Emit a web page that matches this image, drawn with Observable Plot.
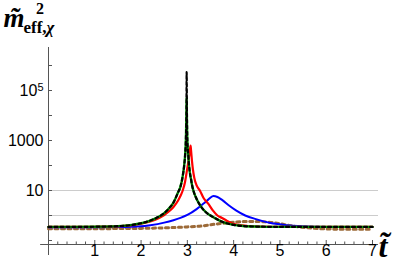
<!DOCTYPE html>
<html>
<head>
<meta charset="utf-8">
<script src="https://cdn.jsdelivr.net/npm/d3@7"></script>
<script src="https://cdn.jsdelivr.net/npm/@observablehq/plot@0.6"></script>
<style>
  html, body { margin: 0; padding: 0; background: #fff; }
  #wrap { position: relative; width: 399px; height: 268px; overflow: hidden; }
</style>
</head>
<body>
<div id="wrap"></div>
<script>
// ---- data ----
const tGB = [0, 0.5, 1, 1.5, 1.8, 2, 2.2, 2.3, 2.4, 2.5, 2.6, 2.7, 2.8, 2.85, 2.9, 2.93, 2.95, 2.97, 2.98, 2.985, 2.99, 3.0, 3.02, 3.05, 3.08, 3.1, 3.13, 3.2, 3.3, 3.4, 3.5, 3.6, 3.7, 3.8, 3.9, 4.0, 4.2, 4.5, 5, 6, 7];
const vBlack = [0.35, 0.35, 0.355, 0.375, 0.42, 0.49, 0.63, 0.75, 0.93, 1.25, 1.9, 3.3, 8.5, 14, 38, 95, 240, 1400, 12000, 540000, 20000, 1000, 250, 60, 28, 17, 10, 4.6, 2.2, 1.35, 1.0, 0.78, 0.62, 0.52, 0.46, 0.42, 0.38, 0.36, 0.35, 0.35, 0.35];
const vGreen = [0.35, 0.35, 0.355, 0.375, 0.42, 0.49, 0.63, 0.75, 0.93, 1.25, 1.9, 3.3, 8.5, 14, 38, 95, 240, 1400, 12000, 54000, 8000, 1000, 250, 60, 28, 17, 10, 4.6, 2.2, 1.35, 1.0, 0.78, 0.62, 0.52, 0.46, 0.42, 0.38, 0.36, 0.35, 0.35, 0.35];

const tRed = [0, 0.5, 1, 1.5, 2, 2.2, 2.4, 2.5, 2.6, 2.7, 2.8, 2.85, 2.9, 2.95, 3.0, 3.03, 3.05, 3.07, 3.08, 3.1, 3.12, 3.15, 3.2, 3.27, 3.35, 3.45, 3.55, 3.65, 3.75, 3.85, 3.97, 4.1, 4.3, 4.6, 5, 6, 7];
const vRed = [0.35, 0.35, 0.355, 0.37, 0.47, 0.58, 0.82, 1.05, 1.45, 2.2, 4.0, 6, 10, 22, 80, 180, 350, 620, 400, 150, 70, 32, 16, 10, 5, 3, 1.6, 1.0, 0.8, 0.62, 0.48, 0.42, 0.38, 0.36, 0.35, 0.35, 0.35];

const tBlue = [0, 1, 1.5, 2, 2.2, 2.5, 2.7, 2.85, 3.0, 3.2, 3.35, 3.45, 3.56, 3.65, 3.75, 3.9, 4.05, 4.25, 4.5, 4.8, 5.1, 5.5, 6, 7];
const vBlue = [0.34, 0.34, 0.345, 0.37, 0.41, 0.52, 0.65, 0.8, 1.05, 1.8, 3.0, 4.3, 6.0, 5.5, 4.2, 2.5, 1.6, 1.0, 0.7, 0.5, 0.42, 0.37, 0.35, 0.345];

const tBrown = [0, 1, 1.5, 2, 2.5, 3, 3.3, 3.6, 3.9, 4.2, 4.5, 4.8, 5.0, 5.2, 5.4, 5.7, 6, 6.5, 7];
const vBrown = [0.295, 0.295, 0.3, 0.305, 0.32, 0.35, 0.38, 0.45, 0.52, 0.57, 0.58, 0.53, 0.47, 0.4, 0.35, 0.31, 0.29, 0.28, 0.28];

const xTickLabels = [1, 2, 3, 4, 5, 6, 7];
const xMinorTicks = d3.range(1, 36).map(i => i / 5).filter(v => Math.abs(v - Math.round(v)) > 1e-9);
const yDecadeTicks = [0.1, 1, 10, 100, 1000, 1e4, 1e5, 1e6];
const yLabelTicks = [10, 1000, 1e5];
const gridLevels = [1, 10];

// ---- chart ----
const yLo = 10 ** -1.16, yHi = 10 ** 6.72;
const axisColor = "#555";
const chart = Plot.plot({
  width: 399,
  height: 268,
  marginLeft: 48,
  marginRight: 27,
  marginTop: 47,
  marginBottom: 24,
  style: {fontFamily: "'Liberation Sans', Arial, sans-serif", fontSize: "16px", color: "#000", background: "#fff", overflow: "visible"},
  x: {domain: [0, 7], label: null},
  y: {type: "log", domain: [yLo, yHi], label: null},
  marks: [
    Plot.ruleY(gridLevels, {x1: 0, x2: 7.13, stroke: "#cccccc", strokeWidth: 1}),
    Plot.ruleX([0], {y1: 10 ** -1.6, y2: yHi, stroke: axisColor, strokeWidth: 1}),
    Plot.ruleY([yLo], {x1: -0.17, x2: 7.13, stroke: axisColor, strokeWidth: 1}),
    Plot.axisX({ticks: xMinorTicks, tickSize: -2.5, text: null, label: null, stroke: axisColor}),
    Plot.axisX({ticks: xTickLabels, tickSize: -4, tickPadding: 4, label: null, stroke: axisColor, fill: "#000", fontSize: 16,
      tickFormat: d => String(d)}),
    Plot.axisY({ticks: yDecadeTicks, tickSize: -4, text: null, label: null, stroke: axisColor}),
    Plot.axisY({ticks: yLabelTicks, tickSize: 0, tickPadding: 5, label: null, fill: "#000", fontSize: 16,
      tickFormat: d => d === 1e5 ? "10^5" : String(d)}),
    Plot.line(tBrown, {x: tBrown, y: vBrown, stroke: "#9c6a38", strokeWidth: 3, strokeDasharray: "3,3.5", curve: "monotone-x"}),
    Plot.line(tBlue, {x: tBlue, y: vBlue, stroke: "#0000ff", strokeWidth: 2, curve: "monotone-x"}),
    Plot.line(tRed, {x: tRed, y: vRed, stroke: "#ff0000", strokeWidth: 2.2, curve: "monotone-x"}),
    Plot.line(tGB, {x: tGB, y: vGreen, stroke: "#00a000", strokeWidth: 2.4, curve: "monotone-x"}),
    Plot.line(tGB, {x: tGB, y: vBlack, stroke: "#000000", strokeWidth: 2.2, strokeDasharray: "3,3", curve: "monotone-x"})
  ]
});
document.getElementById("wrap").appendChild(chart);

// superscript for 10^5
d3.select(chart).selectAll("text").each(function() {
  if (this.textContent === "10^5") {
    const el = d3.select(this);
    el.text("10");
    el.append("tspan").attr("dy", "-0.45em").attr("font-size", "11px").text("5");
  }
});

// title and axis label
const svg = d3.select(chart);
const serif = "'Liberation Serif', 'Times New Roman', serif";
svg.append("text").attr("x", 14).attr("y", 27)
  .attr("font-family", serif).attr("font-weight", "bold").attr("font-style", "italic")
  .attr("font-size", 27).attr("fill", "#000").text("m\u0303");
svg.append("text").attr("x", 40).attr("y", 14)
  .attr("font-family", serif).attr("font-weight", "bold")
  .attr("font-size", 16).attr("fill", "#000").text("2");
const sub = svg.append("text").attr("x", 39).attr("y", 33)
  .attr("font-family", serif).attr("font-weight", "bold")
  .attr("font-size", 17).attr("fill", "#000");
sub.append("tspan").text("eff,");
sub.append("tspan").attr("font-style", "italic").text("\u03c7");
svg.append("text").attr("x", 383).attr("y", 257)
  .attr("font-family", serif).attr("font-weight", "bold").attr("font-style", "italic")
  .attr("font-size", 32).attr("fill", "#000").text("t\u0303");
</script>
</body>
</html>
